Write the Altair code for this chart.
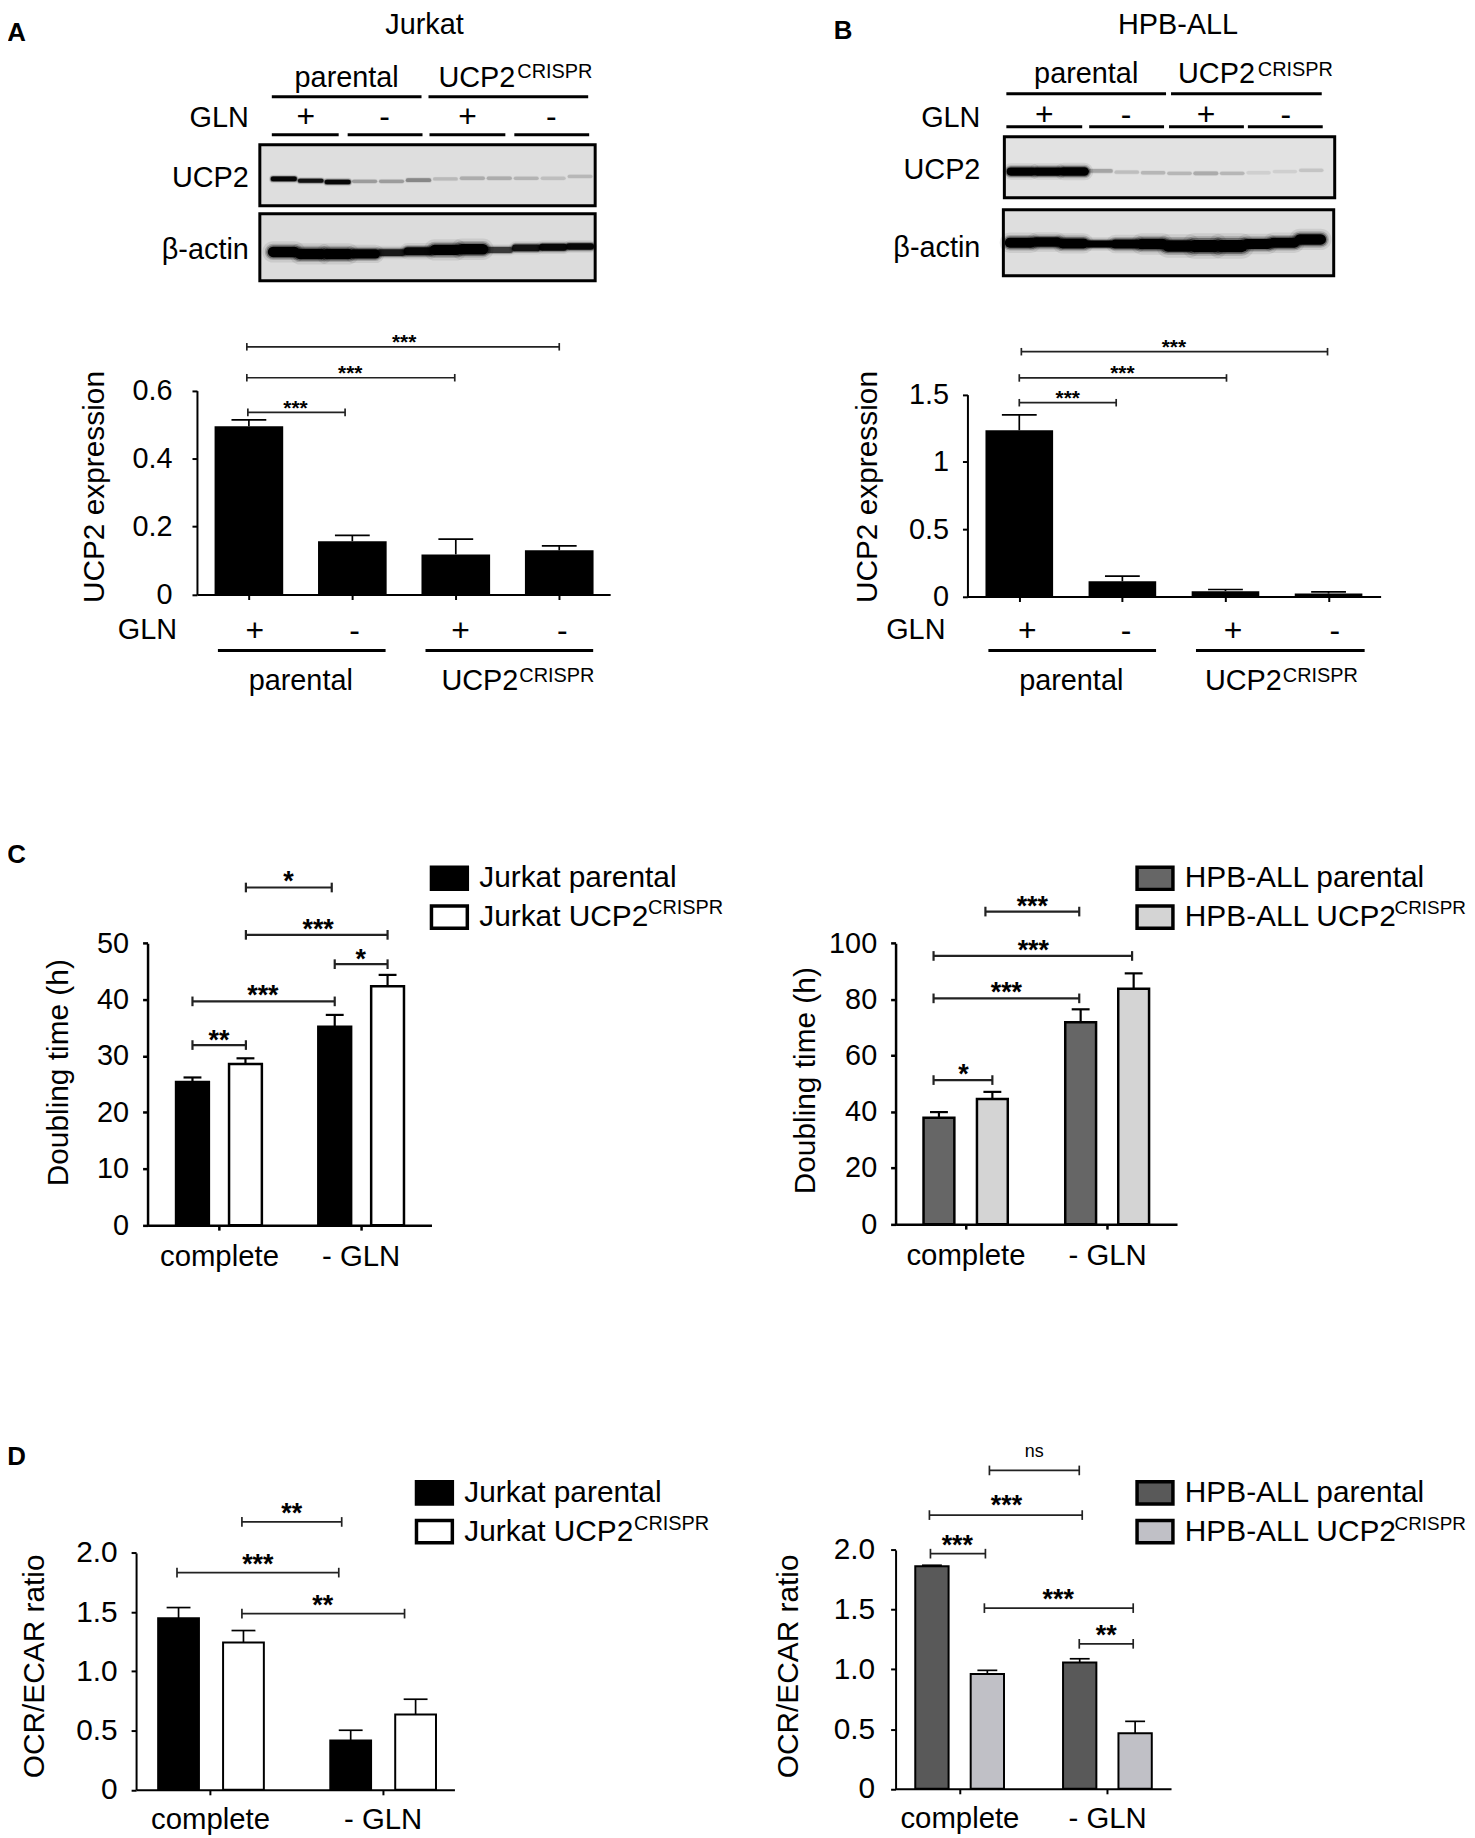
"""
UCP2 knockout panels: western blots and bar charts (A-D)
"""

import pandas as pd
import altair as alt

FONT = 'Liberation Sans'
W, H = 1467, 1830

# panel A bars
a_pos = [1, 2, 3, 4]
a_val = [0.495, 0.157, 0.118, 0.13]
a_err = [0.514, 0.174, 0.163, 0.143]
a_br_x1 = [0.99, 0.98, 0.98]
a_br_x2 = [1.93, 2.99, 4.0]
a_br_y = [0.536, 0.638, 0.729]
a_st_x = [1.45, 1.98, 2.5]
a_st_y = [0.563, 0.666, 0.757]
a_st = ['***', '***', '***']

# panel B bars
b_pos = [1, 2, 3, 4]
b_val = [1.235, 0.113, 0.04, 0.022]
b_err = [1.349, 0.151, 0.052, 0.035]
b_br_x1 = [1.0, 1.0, 1.02]
b_br_x2 = [1.94, 3.01, 3.99]
b_br_y = [1.44, 1.624, 1.819]
b_st_x = [1.47, 2.0, 2.5]
b_st_y = [1.515, 1.696, 1.894]
b_st = ['***', '***', '***']

# panel C, Jurkat
cj_pos = [0.813, 1.187, 1.817, 2.19]
cj_val = [25.4, 28.6, 35.2, 42.4]
cj_err = [26.2, 29.6, 37.3, 44.4]
cj_br_x1 = [0.813, 0.813, 1.817, 1.19, 1.19]
cj_br_x2 = [1.19, 1.817, 2.19, 2.19, 1.796]
cj_br_y = [31.95, 39.7, 46.3, 51.5, 59.9]
cj_st_x = [1.0, 1.31, 2.0, 1.70, 1.49]
cj_st_y = [34.1, 42.1, 48.5, 53.8, 62.3]
cj_st = ['**', '***', '*', '***', '*']

# panel C, HPB-ALL
ch_pos = [0.813, 1.19, 1.813, 2.187]
ch_val = [37.9, 44.6, 71.9, 83.8]
ch_err = [39.9, 47.1, 76.5, 89.3]
ch_br_x1 = [0.775, 0.775, 0.775, 1.141]
ch_br_x2 = [1.19, 1.803, 2.176, 1.803]
ch_br_y = [51.3, 80.4, 95.5, 111.3]
ch_st_x = [0.986, 1.289, 1.479, 1.472]
ch_st_y = [55.8, 84.9, 100.0, 115.8]
ch_st = ['*', '***', '***', '***']

# panel D, Jurkat
dj_pos = [0.818, 1.194, 1.815, 2.191]
dj_val = [1.449, 1.243, 0.416, 0.636]
dj_err = [1.539, 1.345, 0.503, 0.765]
dj_br_x1 = [0.809, 1.185, 1.185]
dj_br_x2 = [1.746, 1.763, 2.127]
dj_br_y = [1.834, 2.262, 1.488]
dj_st_x = [1.277, 1.474, 1.653]
dj_st_y = [1.961, 2.391, 1.615]
dj_st = ['***', '**', '**']

# panel D, HPB-ALL
dh_pos = [0.814, 1.189, 1.814, 2.189]
dh_val = [1.864, 0.961, 1.058, 0.465]
dh_err = [1.872, 0.992, 1.089, 0.565]
dh_br_x1 = [0.804, 1.169, 1.811, 0.797, 1.203]
dh_br_x2 = [1.176, 2.176, 2.176, 1.831, 1.811]
dh_br_y = [1.969, 1.513, 1.214, 2.292, 2.666]
dh_st_x = [0.986, 1.669, 1.993, 1.318]
dh_st_y = [2.097, 1.643, 1.343, 2.429]
dh_st = ['***', '***', '**', '***']

# blots: band height in the box (0 top, 1 bottom), darkness, thickness
lanes = list(range(1, 13))
a_ucp2_y = [.56, .59, .61, .60, .60, .58, .56, .55, .55, .55, .55, .52]
a_ucp2_lev = [.95, .85, .95, .2, .2, .27, .1, .15, .15, .12, .09, .11]
a_ucp2_th = [.35, .3, .35, .22, .22, .25, .2, .22, .22, .2, .2, .2]
a_act_y = [.57, .6, .6, .6, .58, .56, .54, .53, .54, .51, .5, .49]
a_act_lev = [1, 1, 1, 1, .8, .95, 1, 1, .6, .85, .95, .95]
a_act_th = [1, 1, 1, .85, .6, .75, 1, 1, .5, .6, .6, .55]
b_ucp2_y = [.57, .57, .57, .56, .58, .59, .6, .6, .6, .59, .57, .55]
b_ucp2_lev = [1, 1, 1, .18, .1, .12, .12, .16, .12, .05, .05, .08]
b_ucp2_th = [.75, .75, .8, .25, .22, .22, .22, .25, .22, .2, .2, .2]
b_act_y = [.5, .49, .51, .52, .52, .52, .55, .55, .55, .52, .5, .45]
b_act_lev = [1, 1, 1, 1, 1, 1, 1, 1, 1, 1, 1, 1]
b_act_th = [.95, .9, .95, .6, .85, 1, 1.1, 1.2, 1.2, .95, .95, 1]

jurkat_groups = ['Jurkat parental', 'Jurkat UCP2']
hpb_groups = ['HPB-ALL parental', 'HPB-ALL UCP2']


def px(v):
    # picture x to chart x, the page has an 8px margin
    return v - 8 + 0.0035 * (v - 200)


def py(v):
    return v - 8 - 5.2 + 0.0049 * v


def lin_x(dom, a, b):
    return alt.Scale(domain=dom, range=[px(a), px(b)], nice=False, zero=False, padding=0)


def lin_y(dom, a, b):
    return alt.Scale(domain=dom, range=[py(a), py(b)], nice=False, zero=False, padding=0)


def bar_panel(pos, val, err, br_x1, br_x2, br_y, st_x, st_y, st,
              xdom, xbox, ydom, ybox, yticks, xticks, ytitle, bar_size, cap,
              star_size, groups=None, colors=None, legend_xy=None,
              xlabels=None, decimals=False, line=2.0, title_pad=8, title_y=0,
              tick_pad=14, tick_size=29, x_pad=7, stroke=0):
    xs = lin_x(xdom, *xbox)
    ys = lin_y(ydom, *ybox)

    x_axis = alt.Axis(orient='bottom', values=xticks, grid=False, labels=xlabels is not None,
                      labelExpr=xlabels or "''", offset=py(ybox[0]) - H,
                      labelFontSize=29.5, labelPadding=x_pad, labelColor='black',
                      labelOverlap=False, labelFlush=False, domainColor='black',
                      domainWidth=line, tickColor='black', tickWidth=line,
                      tickSize=5, title=None)
    y_expr = ("datum.value == 0 ? '0' : format(datum.value, '.1f')" if decimals
              else "format(datum.value, '~g')")
    y_axis = alt.Axis(orient='left', values=yticks, grid=False, labelExpr=y_expr,
                      offset=-px(xbox[0]), labelFontSize=tick_size,
                      labelPadding=tick_pad, labelColor='black', labelOverlap=False,
                      labelFlush=False, domainColor='black', domainWidth=line,
                      tickColor='black', tickWidth=line, tickSize=5,
                      title=ytitle, titleFontSize=30, titleFontWeight='normal',
                      titleColor='black', titlePadding=title_pad, titleY=py(title_y))

    def xq(field):
        return alt.X(field, scale=xs, title=None, axis=x_axis)

    def yq(field):
        return alt.Y(field, scale=ys, title=ytitle, axis=y_axis, stack=False)

    df = pd.DataFrame({'x': pos, 'v': val, 'e': err})
    enc = dict(x=xq('x:Q'), y=yq('v:Q'))
    if groups:
        df['group'] = groups * 2
        enc['color'] = alt.Color(
            'group:N', scale=alt.Scale(domain=groups, range=colors),
            legend=alt.Legend(orient='none', legendX=px(legend_xy[0]),
                              legendY=py(legend_xy[1] - 6), title=None,
                              symbolType='M-1,-0.62H1V0.62H-1Z', symbolSize=1300,
                              symbolStrokeWidth=3.5, symbolStrokeColor='black',
                              labelFontSize=30, labelColor='black',
                              labelOffset=10, labelLimit=400, rowPadding=-4,
                              padding=0))
    bars = alt.Chart(df).mark_bar(size=bar_size, orient='vertical', opacity=1, color='black',
                                  stroke='black', strokeWidth=stroke).encode(**enc)
    stem = alt.Chart(df).mark_rule(color='black', strokeWidth=line - 0.3).encode(
        x=xq('x:Q'), y=yq('v:Q'), y2='e:Q')
    caps = alt.Chart(df).mark_tick(orient='horizontal', size=cap, thickness=line - 0.3,
                                   color='black', opacity=1).encode(
        x=xq('x:Q'), y=yq('e:Q'))

    br = pd.DataFrame({'a': br_x1, 'b': br_x2, 'y': br_y})
    br_line = alt.Chart(br).mark_rule(color='#222222', strokeWidth=line - 0.3).encode(
        x=xq('a:Q'), x2='b:Q', y=yq('y:Q'))
    ends = alt.Chart(br).transform_fold(['a', 'b'], as_=['side', 'xe']).mark_tick(
        orient='vertical', size=star_size * 0.36, thickness=line - 0.3,
        color='#222222', opacity=1).encode(
        x=xq('xe:Q'), y=yq('y:Q'))

    stars = pd.DataFrame({'x': st_x, 'y': st_y, 't': st})
    st_text = alt.Chart(stars).mark_text(
        fontSize=star_size, fontWeight='bold', color='black', baseline='middle',
        dy=star_size * 0.29, font=FONT).encode(
        x=xq('x:Q'), y=yq('y:Q'), text='t:N')
    return alt.layer(bars, stem, caps, br_line, ends, st_text)


def blot(box_x, box_y, xdom, fill, band_y, band_lev, band_th):
    xs = lin_x(xdom, *box_x)
    ys = lin_y([0, 1], box_y[0], box_y[1])
    box = pd.DataFrame({'a': [xdom[0]], 'b': [xdom[1]], 't': [0], 'u': [1]})
    frame = alt.Chart(box).mark_rect(fill=fill, stroke='black', strokeWidth=3).encode(
        x=alt.X('a:Q', scale=xs, title=None, axis=None), x2='b:Q',
        y=alt.Y('t:Q', scale=ys, title=None, axis=None), y2='u:Q')
    df = pd.DataFrame({'lane': lanes, 'y': band_y, 'lev': band_lev, 'th': band_th})
    df['a'] = df['lane'] - 0.4
    df['b'] = df['lane'] + 0.4

    def band(spread, fade):
        return alt.Chart(df).transform_calculate(
            w=f'datum.th * {spread} + 1.5', o=f'datum.lev * {fade}'
        ).mark_rule(color='black', strokeCap='round').encode(
            x=alt.X('a:Q', scale=xs, title=None, axis=None), x2='b:Q',
            y=alt.Y('y:Q', scale=ys, title=None, axis=None),
            strokeWidth=alt.StrokeWidth('w:Q', scale=None),
            opacity=alt.Opacity('o:Q', scale=None))

    return alt.layer(frame, band(20, 0.08), band(15, 0.18), band(12, 0.35), band(9, 1))


page_x = alt.Scale(domain=[0, W], range=[0, W], nice=False, zero=False)
page_y = alt.Scale(domain=[0, H], range=[0, H], nice=False, zero=False)


def texts(labels, xs, ys, size=29, align='center', weight='normal', baseline='alphabetic'):
    df = pd.DataFrame({'t': labels, 'x': [px(v) for v in xs], 'y': [py(v) for v in ys]})
    return alt.Chart(df).mark_text(fontSize=size, align=align, fontWeight=weight,
                                   baseline=baseline, color='black', font=FONT).encode(
        x=alt.X('x:Q', scale=page_x, title=None, axis=None),
        y=alt.Y('y:Q', scale=page_y, title=None, axis=None),
        text='t:N')


def lines(x1, x2, y, width=3):
    df = pd.DataFrame({'a': [px(v) for v in x1], 'b': [px(v) for v in x2],
                       'y': [py(v) for v in y]})
    return alt.Chart(df).mark_rule(color='black', strokeWidth=width).encode(
        x=alt.X('a:Q', scale=page_x, title=None, axis=None), x2='b:Q',
        y=alt.Y('y:Q', scale=page_y, title=None, axis=None))


complete_gln = "datum.value == 1 ? 'complete' : '- GLN'"

panels = [
    blot((261, 597), (145, 206), [0.11, 12.56], '#dedede', a_ucp2_y, a_ucp2_lev, a_ucp2_th),
    blot((261, 597), (214, 281), [0.11, 12.56], '#dcdcdc', a_act_y, a_act_lev, a_act_th),
    blot((1007, 1338), (137, 198), [0.356, 12.89], '#e2e2e2', b_ucp2_y, b_ucp2_lev, b_ucp2_th),
    blot((1006, 1337), (210, 276), [0.356, 12.89], '#dedede', b_act_y, b_act_lev, b_act_th),
    bar_panel(a_pos, a_val, a_err, a_br_x1, a_br_x2, a_br_y, a_st_x, a_st_y, a_st,
              [0.498, 4.492], (198, 612), [0, 0.6], (595, 391), [0, 0.2, 0.4, 0.6],
              a_pos, 'UCP2 expression', 69, 35, 21,
              tick_pad=20, title_pad=23, title_y=487),
    bar_panel(b_pos, b_val, b_err, b_br_x1, b_br_x2, b_br_y, b_st_x, b_st_y, b_st,
              [0.497, 4.505], (970, 1384), [0, 1.5], (597, 395), [0, 0.5, 1, 1.5],
              b_pos, 'UCP2 expression', 68, 35, 21, title_pad=26, title_y=487),
    bar_panel(cj_pos, cj_val, cj_err, cj_br_x1, cj_br_x2, cj_br_y, cj_st_x, cj_st_y, cj_st,
              [0.496, 2.5], (148.5, 433), [0, 50], (1226, 944), [0, 10, 20, 30, 40, 50],
              [1, 2], 'Doubling time (h)', 33, 18, 27,
              groups=jurkat_groups, colors=['#000000', '#ffffff'], legend_xy=(431, 865),
              xlabels=complete_gln, line=2.5, stroke=2.5,
              title_pad=23, title_y=1073, x_pad=13),
    bar_panel(ch_pos, ch_val, ch_err, ch_br_x1, ch_br_x2, ch_br_y, ch_st_x, ch_st_y, ch_st,
              [0.507, 2.493], (898, 1180), [0, 100], (1225, 944), [0, 20, 40, 60, 80, 100],
              [1, 2], 'Doubling time (h)', 31, 18, 27,
              groups=hpb_groups, colors=['#666666', '#d4d4d4'], legend_xy=(1138, 865),
              xlabels=complete_gln, line=2.5, stroke=2.5,
              title_pad=8, title_y=1081, x_pad=13),
    bar_panel(dj_pos, dj_val, dj_err, dj_br_x1, dj_br_x2, dj_br_y, dj_st_x, dj_st_y, dj_st,
              [0.572, 2.416], (137, 456), [0, 2], (1791, 1554), [0, 0.5, 1, 1.5, 2],
              [1, 2], 'OCR/ECAR ratio', 41, 24, 27,
              groups=jurkat_groups, colors=['#000000', '#ffffff'], legend_xy=(416, 1480),
              xlabels=complete_gln, decimals=True, stroke=2,
              tick_size=30, title_pad=26, title_y=1667, x_pad=10.5),
    bar_panel(dh_pos, dh_val, dh_err, dh_br_x1, dh_br_x2, dh_br_y, dh_st_x, dh_st_y, dh_st,
              [0.568, 2.432], (898, 1174), [0, 2], (1790, 1551), [0, 0.5, 1, 1.5, 2],
              [1, 2], 'OCR/ECAR ratio', 33.5, 20, 27,
              groups=hpb_groups, colors=['#595959', '#c0c0c6'], legend_xy=(1138, 1480),
              xlabels=complete_gln, decimals=True, stroke=2,
              tick_pad=16, tick_size=30, title_pad=30, title_y=1667, x_pad=10.5),
    # letters and titles
    texts(['A', 'C', 'D'], [8, 8, 8], [41, 864, 1466], size=26, align='left', weight='bold'),
    texts(['B'], [836], [39], size=26, align='left', weight='bold'),
    texts(['Jurkat', 'HPB-ALL'], [426, 1181], [34, 34], size=29),
    # blot headers
    texts(['parental', 'parental'], [348, 1089], [87, 83]),
    texts(['UCP2', 'UCP2', 'UCP2', 'UCP2'], [440, 1181, 443, 1208], [87, 83, 691, 691], align='left'),
    texts(['CRISPR'] * 4, [519, 1261, 521, 1286], [78, 76, 683, 683], size=20, align='left'),
    texts(['GLN', 'GLN', 'GLN', 'GLN', 'UCP2', 'UCP2', 'β-actin', 'β-actin'],
          [250, 983, 178, 948, 250, 983, 250, 983],
          [127, 127, 640, 640, 187, 179, 259, 257], align='right'),
    texts(['+', '-', '+', '-', '+', '-', '+', '-'],
          [307, 386, 469, 553, 1047, 1129, 1209, 1289],
          [117, 117, 117, 117, 115, 115, 115, 115], size=32, baseline='middle'),
    texts(['+', '-', '+', '-', '+', '-', '+', '-'],
          [256, 356, 462, 564, 1030, 1129, 1236, 1338],
          [632, 632, 632, 632, 632, 632, 632, 632], size=32, baseline='middle'),
    texts(['parental', 'parental'], [302, 1074], [691, 691]),
    lines([273, 430, 1009, 1174], [423, 590, 1169, 1325], [97, 97, 94, 94]),
    lines([273, 349, 431, 516, 1009, 1092, 1172, 1251],
          [340, 424, 507, 591, 1085, 1167, 1247, 1326],
          [135, 135, 135, 135, 127, 127, 127, 127]),
    lines([219, 427, 991, 1199], [387, 595, 1159, 1368], [651, 651, 651, 651]),
    # superscripts of the legends and the small ns
    texts(['CRISPR'] * 2, [650, 636], [915, 1531], size=20, align='left'),
    texts(['CRISPR'] * 2, [1398, 1398], [915, 1531], size=19, align='left'),
    texts(['ns'], [1037], [1458], size=18),
]

chart = alt.layer(*panels).resolve_scale(
    x='independent', y='independent', color='independent'
).properties(
    width=W, height=H, padding=0, background='white',
    autosize=alt.AutoSizeParams(type='none')
).configure(font=FONT).configure_view(stroke=None)

chart.save("out.html", embed_options={"renderer": "svg", "actions": False})
